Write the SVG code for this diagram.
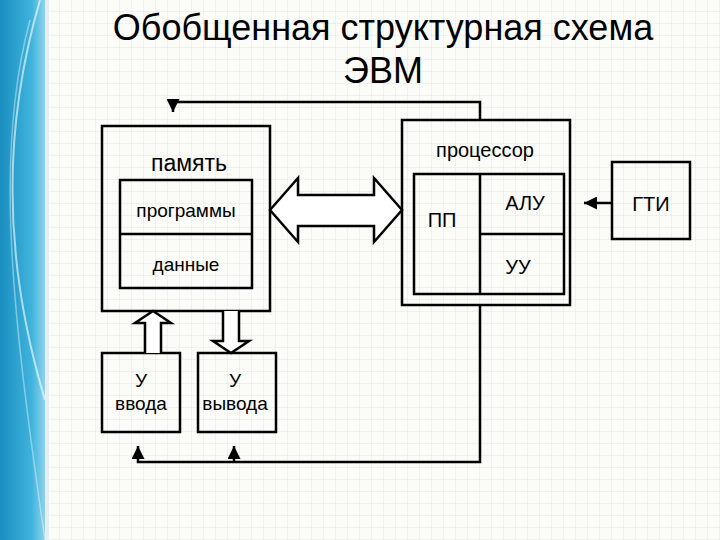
<svg xmlns="http://www.w3.org/2000/svg" width="720" height="540" viewBox="0 0 720 540">
<defs>
<pattern id="grid" width="12" height="12" patternUnits="userSpaceOnUse">
<path d="M12 0V12H0" fill="none" stroke="#e4e6e0" stroke-width="1"/>
</pattern>
<linearGradient id="blue" x1="0" y1="0" x2="1" y2="0">
<stop offset="0" stop-color="#1a8fc0"/><stop offset="0.7" stop-color="#3fb3dc"/><stop offset="1" stop-color="#8fd3ec"/>
</linearGradient>
<marker id="ah" viewBox="0 0 10 10" refX="10" refY="5" markerWidth="14" markerHeight="13" markerUnits="userSpaceOnUse" orient="auto">
<path d="M0 0L10 5L0 10z" fill="#000"/>
</marker>
<style>
.b{fill:none;stroke:#000;stroke-width:2.5}
.l{fill:none;stroke:#000;stroke-width:2.5}
.t{font-family:"Liberation Sans",Arial,sans-serif;fill:#000;text-anchor:middle;font-weight:normal}
</style>
</defs>
<rect width="720" height="540" fill="#fbfbf7"/>
<rect x="45" width="675" height="540" fill="url(#grid)"/>
<rect width="45" height="540" fill="url(#blue)"/>
<path d="M40 0C5 120 0 250 45 400" fill="none" stroke="#fff" stroke-opacity="0.6" stroke-width="2"/>
<path d="M30 20C-5 150 10 300 45 540" fill="none" stroke="#fff" stroke-opacity="0.4" stroke-width="1.5"/>
<rect x="45" width="4" height="540" fill="#e8eef0"/>
<g id="title">
<text class="t" x="383" y="40" font-size="36">Обобщенная структурная схема</text>
<text class="t" x="383" y="83" font-size="36">ЭВМ</text>
</g>
<g id="memory">
<rect class="b" x="102" y="126" width="168" height="185"/>
<rect class="b" x="120" y="180" width="132" height="108"/>
<line class="b" x1="120" y1="234" x2="252" y2="234"/>
<text class="t" x="189" y="171" font-size="23">память</text>
<text class="t" x="186" y="217" font-size="19">программы</text>
<text class="t" x="186" y="271" font-size="19">данные</text>
</g>
<g id="processor">
<rect class="b" x="402" y="120" width="168" height="185"/>
<rect class="b" x="414" y="174" width="150" height="120"/>
<line class="b" x1="480" y1="174" x2="480" y2="294"/>
<line class="b" x1="480" y1="234" x2="564" y2="234"/>
<text class="t" x="485" y="157" font-size="20">процессор</text>
<text class="t" x="442" y="227" font-size="20">ПП</text>
<text class="t" x="525" y="210" font-size="20">АЛУ</text>
<text class="t" x="518" y="274" font-size="20">УУ</text>
</g>
<g id="gti">
<rect class="b" x="612" y="162" width="78" height="77"/>
<text class="t" x="651" y="211" font-size="20">ГТИ</text>
</g>
<g id="input">
<rect class="b" x="102" y="353" width="78" height="79"/>
<text class="t" x="141" y="387" font-size="19">У</text>
<text class="t" x="141" y="410" font-size="19">ввода</text>
</g>
<g id="output">
<rect class="b" x="198" y="353" width="78" height="79"/>
<text class="t" x="235" y="387" font-size="19">У</text>
<text class="t" x="235" y="410" font-size="19">вывода</text>
</g>
<g id="connectors">
<path class="l" d="M480 120V102H173V112" marker-end="url(#ah)"/>
<path class="l" d="M612 203H584" marker-end="url(#ah)"/>
<path class="l" d="M480 305V462H138V446" marker-end="url(#ah)"/>
<path class="l" d="M234 462V446" marker-end="url(#ah)"/>
<path class="l" style="fill:#fff" d="M270 210L298 178V195H374V178L402 210L374 242V226H298V242Z"/>
<path class="l" style="fill:#fff" d="M145 353V323H135L153 311L171 323H161V353"/>
<path class="l" style="fill:#fff" d="M223 311V341H213L231 353L249 341H239V311"/>
</g>
</svg>
